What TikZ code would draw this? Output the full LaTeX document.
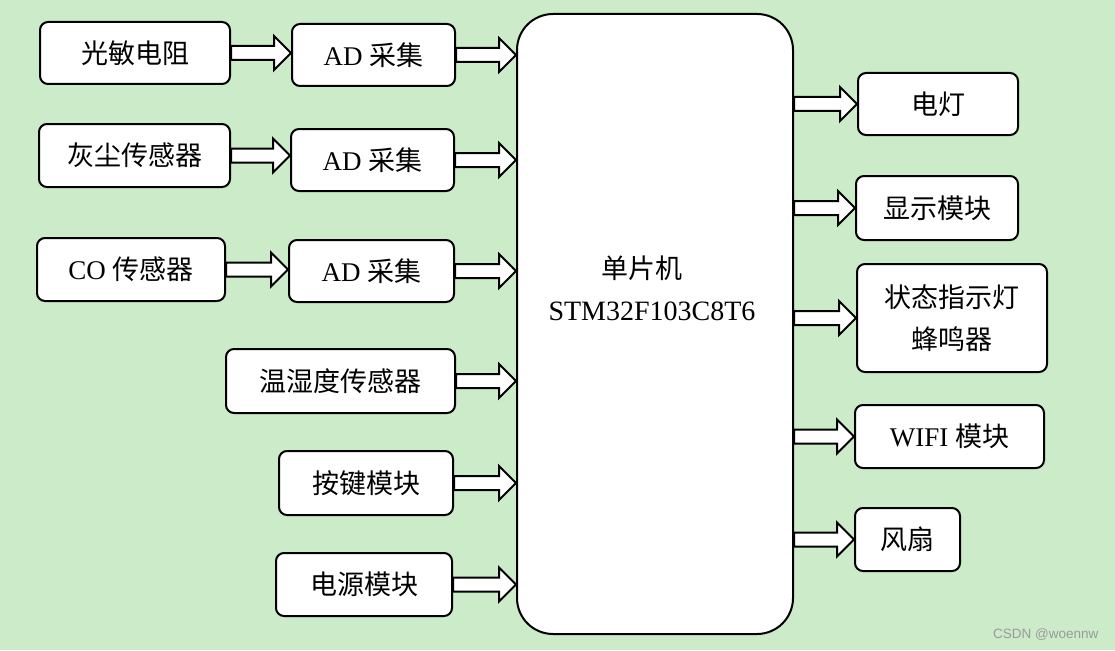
\documentclass[tikz,border=0pt]{standalone}
\usepackage{fontspec}
\setmainfont{Liberation Serif}
\newfontfamily\cjk{Noto Sans CJK SC}
\newfontfamily\wmfont{Liberation Sans}
\usepackage{xcolor}
\definecolor{eyebg}{HTML}{CCEBC9}
\definecolor{wmgray}{HTML}{9A9A9A}
\usepackage{tikz}
\usetikzlibrary{calc}

% fat hollow arrow: from, to, node giving the height
\newcommand{\fatarrow}[3]{%
\draw[arr] let \p1=(#1.east), \p2=(#2.west), \p3=(#3) in
  (\x1,\y3+7pt) -- (\x2-17pt,\y3+7pt) -- (\x2-17pt,\y3+17pt) -- (\x2,\y3)
  -- (\x2-17pt,\y3-17pt) -- (\x2-17pt,\y3-7pt) -- (\x1,\y3-7pt) -- cycle;}

\begin{document}
\begin{tikzpicture}[x=1pt,y=-1pt,
  box/.style={draw,line width=2pt,rounded corners=8pt,fill=white,inner sep=0pt,
    align=center,font=\fontsize{27}{36}\selectfont},
  arr/.style={draw,line width=2pt,fill=white,line join=miter}]
\fill[eyebg] (0,0) rectangle (1115,650);
\useasboundingbox (0,0) rectangle (1115,650);

% inputs
\node[box,minimum width=190pt,minimum height=62pt] (gm) at (135,53) {\cjk 光敏电阻};
\node[box,minimum width=163pt,minimum height=62pt] (ad1) at (373.5,55) {AD {\cjk 采集}};
\node[box,minimum width=191pt,minimum height=63pt] (hc) at (134.5,155.5) {\cjk 灰尘传感器};
\node[box,minimum width=163pt,minimum height=62pt] (ad2) at (372.5,160) {AD {\cjk 采集}};
\node[box,minimum width=188pt,minimum height=63pt] (co) at (131,269.5) {CO {\cjk 传感器}};
\node[box,minimum width=165pt,minimum height=62pt] (ad3) at (371.5,271) {AD {\cjk 采集}};
\node[box,minimum width=229pt,minimum height=64pt] (wsd) at (340.5,381) {\cjk 温湿度传感器};
\node[box,minimum width=174pt,minimum height=64pt] (aj) at (366,483) {\cjk 按键模块};
\node[box,minimum width=176pt,minimum height=63pt] (dy) at (364,584.5) {\cjk 电源模块};

% controller
\node[box,rounded corners=36pt,minimum width=276pt,minimum height=620pt] (mcu) at (655,324) {};
\node[font=\fontsize{27}{36}\selectfont] (mcuname) at (642,268) {\cjk 单片机};
\node[font=\fontsize{28}{36}\selectfont] (mcutype) at (652,311) {STM32F103C8T6};

% outputs
\node[box,minimum width=160pt,minimum height=62pt] (dd) at (938,104) {\cjk 电灯};
\node[box,minimum width=162pt,minimum height=64pt] (xs) at (937,208) {\cjk 显示模块};
\node[box,minimum width=190pt,minimum height=108pt,font=\fontsize{27}{42}\selectfont] (zt) at (952,318) {\cjk 状态指示灯\\\cjk 蜂鸣器};
\node[box,minimum width=189pt,minimum height=63pt] (wifi) at (949.5,436.5) {WIFI {\cjk 模块}};
\node[box,minimum width=105pt,minimum height=63pt] (fs) at (907.5,539.5) {\cjk 风扇};

% arrows
\fatarrow{gm}{ad1}{gm}
\fatarrow{hc}{ad2}{hc}
\fatarrow{co}{ad3}{co}
\fatarrow{ad1}{mcu}{ad1}
\fatarrow{ad2}{mcu}{ad2}
\fatarrow{ad3}{mcu}{ad3}
\fatarrow{wsd}{mcu}{wsd}
\fatarrow{aj}{mcu}{aj}
\fatarrow{dy}{mcu}{dy}
\fatarrow{mcu}{dd}{dd}
\fatarrow{mcu}{xs}{xs}
\fatarrow{mcu}{zt}{zt}
\fatarrow{mcu}{wifi}{wifi}
\fatarrow{mcu}{fs}{fs}

\node[text=wmgray,font=\wmfont\fontsize{13.5}{15}\selectfont,anchor=east] (wm) at (1102,635) {CSDN @woennw};
\end{tikzpicture}
\end{document}
